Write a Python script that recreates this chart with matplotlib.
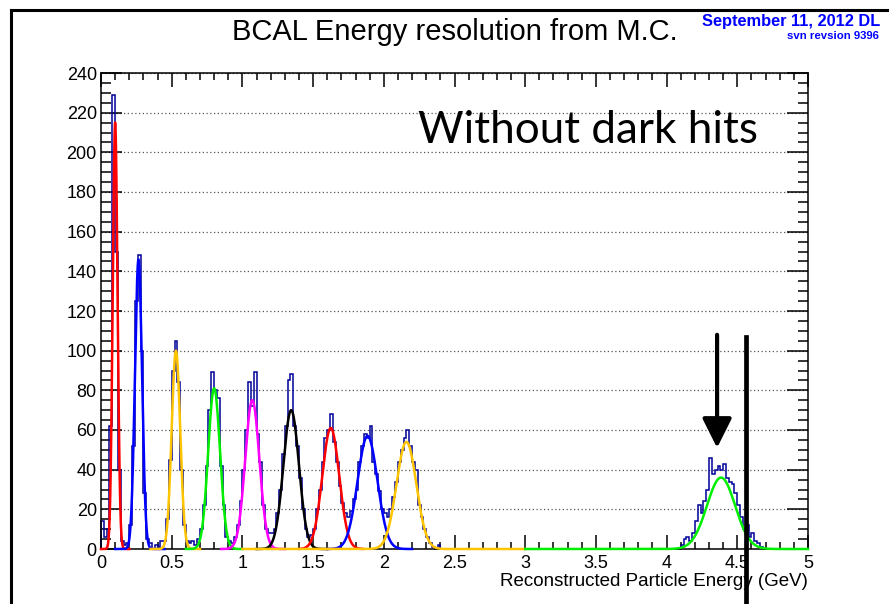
import numpy as np
import matplotlib
matplotlib.use('Agg')
import matplotlib.pyplot as plt
from matplotlib.lines import Line2D
from matplotlib.ticker import MultipleLocator

plt.rcParams['font.family'] = 'Liberation Sans'

# navy histogram, 0.02 GeV bins
bin_width = 0.02
low_start = 0.00
low_counts = [14, 6, 10, 62, 229, 150, 40, 4, 2, 3,
              12, 52, 125, 148, 100, 28, 5, 3, 0, 2,
              1, 4, 4, 15, 45, 90, 105, 84, 40, 12,
              4, 3, 4, 2, 5, 10, 22, 42, 70, 89,
              80, 76, 42, 22, 6, 4, 3, 6, 12, 24,
              40, 60, 84, 72, 89, 58, 44, 22, 10, 8,
              8, 10, 18, 30, 48, 62, 85, 88, 62, 52,
              36, 20, 10, 6, 7, 10, 20, 30, 44, 56,
              60, 68, 54, 44, 32, 23, 18, 16, 19, 25,
              30, 44, 52, 58, 56, 62, 44, 38, 29, 20,
              18, 16, 20, 26, 34, 44, 50, 56, 60, 52,
              44, 40, 22, 16, 10, 6, 3, 1, 0, 2]
high_start = 4.10
high_counts = [2, 5, 6, 4, 8, 14, 22, 18, 24, 30,
               46, 38, 40, 42, 40, 43, 36, 34, 33, 28,
               22, 16, 10, 12, 6, 8, 4, 3, 1, 0]

# gaussian fits
fit_mean = [0.10, 0.265, 0.53, 0.80, 1.07, 1.345, 1.625, 1.885, 2.16, 4.385]
fit_sigma = [0.017, 0.025, 0.030, 0.042, 0.050, 0.055, 0.060, 0.070, 0.070, 0.100]
fit_amp = [215, 146, 100, 81, 75, 70, 61, 57, 54, 36]
fit_lo = [0.0, 0.1, 0.35, 0.6, 0.85, 1.1, 1.4, 1.6, 1.0, 3.0]
fit_hi = [0.2, 0.45, 0.7, 1.0, 1.3, 1.6, 1.85, 2.2, 3.0, 5.0]
fit_color = ['#ff0000', '#0000ff', '#ffc400', '#00ee00', '#ff00ff',
             '#000000', '#ff0000', '#0000ff', '#ffc400', '#00ee00']

edges = np.round(np.arange(0, 5 + bin_width / 2, bin_width), 4)
counts = np.zeros(len(edges) - 1)
i0 = int(round(low_start / bin_width))
counts[i0:i0 + len(low_counts)] = low_counts
i1 = int(round(high_start / bin_width))
counts[i1:i1 + len(high_counts)] = high_counts

fig = plt.figure(figsize=(8.89, 6.04), dpi=100)
ax = fig.add_axes([101 / 889, 55 / 604, 707 / 889, 476 / 604])

ax.stairs(counts, edges, color='#000099', lw=1.1, zorder=2, clip_on=False)
for m, s, a, lo, hi, c in zip(fit_mean, fit_sigma, fit_amp, fit_lo, fit_hi, fit_color):
    x = np.linspace(lo, hi, 600)
    ax.plot(x, a * np.exp(-0.5 * ((x - m) / s) ** 2), color=c, lw=1.8, zorder=3, clip_on=False)

ax.set_xlim(0, 5)
ax.set_ylim(0, 240)
ax.xaxis.set_major_locator(MultipleLocator(0.5))
ax.xaxis.set_minor_locator(MultipleLocator(0.1))
ax.yaxis.set_major_locator(MultipleLocator(20))
ax.yaxis.set_minor_locator(MultipleLocator(5))
ax.xaxis.set_major_formatter(plt.FuncFormatter(lambda v, p: '%g' % v))
ax.tick_params(which='both', direction='in', top=True, right=True, width=1.1, labelsize=13)
ax.tick_params(axis='x', which='major', length=10, pad=4)
ax.tick_params(axis='x', which='minor', length=5)
ax.tick_params(axis='y', which='major', length=15, pad=3)
ax.tick_params(axis='y', which='minor', length=7.5)
for sp in ax.spines.values():
    sp.set_linewidth(1.1)
ax.yaxis.grid(True, which='major', linestyle=(0, (1, 2)), color='#555555', lw=0.9)
ax.set_axisbelow(True)

ax.set_xlabel('Reconstructed Particle Energy (GeV)', loc='right', fontsize=13.5, labelpad=1)

fig.text(0.512, 0.947, 'BCAL Energy resolution from M.C.', ha='center', va='center', fontsize=21)
fig.text(0.99, 0.964, 'September 11, 2012 DL', color='#0000ff', fontweight='bold',
         fontsize=11.8, ha='right', va='center')
fig.text(0.989, 0.94, 'svn revsion 9396', color='#0000ff', fontweight='bold',
         fontsize=8.2, ha='right', va='center')
fig.text(418 / 889, 1 - 143 / 604, 'Without dark hits', family='Lato', fontsize=31.7,
         ha='left', va='baseline')

# slide frame
fig.add_artist(Line2D([11 / 889, 1], [1 - 10 / 604, 1 - 10 / 604], color='k', lw=2.2))
fig.add_artist(Line2D([11 / 889, 11 / 889], [0, 1 - 10 / 604], color='k', lw=2.2))

# arrow and marker line
ax.annotate('', xy=(4.357, 51), xytext=(4.357, 108),
            arrowprops=dict(arrowstyle='-|>,head_length=0.9,head_width=0.45', lw=3,
                            color='k', shrinkA=0, shrinkB=0, mutation_scale=20))
ax.plot([4.561, 4.561], [107, -40], color='k', lw=3.4, clip_on=False, zorder=5)

fig.savefig('out.png', dpi=100)
